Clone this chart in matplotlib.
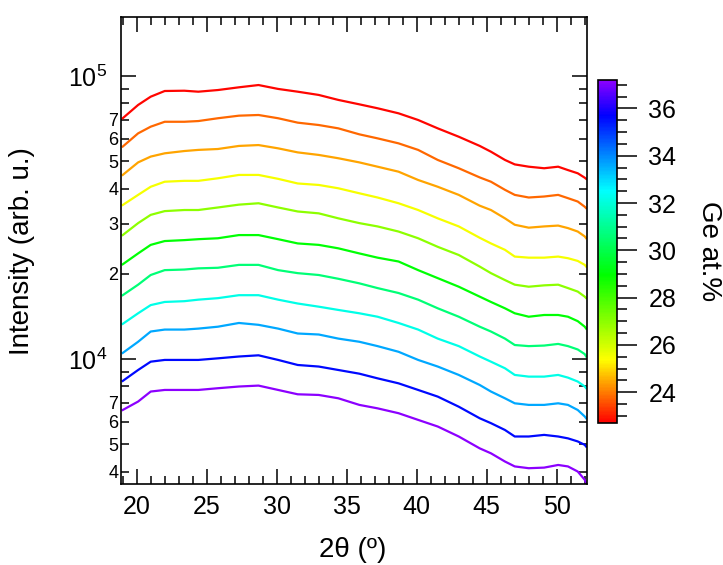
import numpy as np
import matplotlib
matplotlib.use("Agg")
import matplotlib.pyplot as plt
from matplotlib.colors import LinearSegmentedColormap, Normalize
from matplotlib.cm import ScalarMappable
from matplotlib.ticker import MultipleLocator, FixedLocator, FuncFormatter

plt.rcParams['font.family'] = ['Liberation Sans', 'DejaVu Sans']
plt.rcParams['mathtext.fontset'] = 'custom'
plt.rcParams['mathtext.rm'] = 'Liberation Sans'

# diffraction angle (deg)
two_theta = [19.0, 20.1, 21.0, 22.0, 23.4, 24.4, 25.8, 27.3, 28.7, 30.1,
             31.5, 33.0, 34.4, 35.9, 37.2, 38.7, 40.1, 41.5, 43.0, 44.5,
             45.3, 46.3, 47.0, 48.0, 49.1, 50.1, 50.8, 51.5, 52.0, 52.1]

# Ge content of each film (at.%), same order as the scans below
ge_content = [22.8, 23.8, 24.4, 25.5, 27.0, 29.0, 30.6, 32.2, 33.6, 35.6, 37.2]

# intensities (arb. u.)
scan_1 = [70900, 79000, 84500, 88500, 88700, 88000, 89200, 91200, 92900, 90000,
          88000, 85700, 82300, 79400, 76900, 73800, 69900, 65300, 61000, 56600,
          54000, 50500, 48700, 47800, 47200, 47800, 46500, 45300, 43700, 43300]
scan_2 = [56300, 62700, 66200, 68900, 68900, 69300, 70900, 72400, 72800, 70900,
          68400, 67100, 65300, 62200, 60200, 57800, 54800, 50500, 47200, 43800,
          42300, 39600, 38000, 37200, 37500, 38000, 37000, 36000, 34500, 34100]
scan_3 = [44700, 49500, 51900, 53300, 54300, 54800, 55200, 56600, 57000, 55500,
          53700, 52600, 51200, 49500, 47800, 45900, 42900, 40600, 38000, 34800,
          33600, 31400, 29800, 29100, 29400, 29600, 29000, 28200, 27100, 26700]
scan_4 = [35000, 38000, 40600, 42300, 42600, 42600, 43500, 44700, 44700, 43300,
          41700, 41200, 40100, 38500, 37200, 35500, 33600, 31400, 29400, 26800,
          25600, 24300, 23000, 22800, 22800, 23000, 22700, 22200, 21500, 21200]
scan_5 = [27400, 30200, 32300, 33300, 33600, 33600, 34300, 35100, 35500, 34300,
          33200, 32700, 31400, 30200, 29400, 28200, 26700, 24900, 23300, 21200,
          20100, 19000, 18300, 18000, 18200, 18300, 17800, 17300, 16600, 16400]
scan_6 = [21600, 23600, 25300, 26100, 26300, 26500, 26700, 27400, 27400, 26500,
          25600, 25300, 24600, 23600, 22800, 22100, 20600, 19300, 18000, 16600,
          15900, 15100, 14500, 14100, 14300, 14300, 14100, 13600, 13000, 12800]
scan_7 = [16800, 18300, 19800, 20600, 20700, 20900, 21000, 21500, 21500, 20600,
          20100, 19800, 19200, 18500, 17800, 17100, 16200, 15100, 14100, 13000,
          12500, 11800, 11200, 11100, 11150, 11300, 11100, 10800, 10400, 10200]
scan_8 = [13300, 14500, 15500, 15900, 16000, 16200, 16400, 16800, 16800, 16200,
          15700, 15300, 14900, 14500, 14100, 13400, 12700, 11800, 11100, 10200,
          9780, 9270, 8780, 8660, 8660, 8780, 8590, 8320, 7990, 7880]
scan_9 = [10500, 11500, 12500, 12700, 12700, 12800, 13000, 13400, 13200, 12800,
          12300, 12200, 11800, 11500, 11100, 10600, 9920, 9400, 8780, 8090,
          7670, 7260, 6970, 6880, 6880, 6970, 6880, 6600, 6260, 6170]
scan_10 = [8360, 9140, 9780, 9920, 9920, 9920, 10050, 10200, 10300, 9920,
           9520, 9400, 9140, 8870, 8540, 8200, 7770, 7360, 6780, 6170,
           5930, 5610, 5320, 5320, 5390, 5320, 5240, 5110, 4970, 4900]
scan_11 = [6600, 7070, 7670, 7770, 7770, 7770, 7880, 7990, 8050, 7770,
           7500, 7460, 7260, 6880, 6690, 6430, 6090, 5770, 5320, 4830,
           4640, 4340, 4170, 4110, 4130, 4220, 4170, 4000, 3740, 3640]

scans = [scan_1, scan_2, scan_3, scan_4, scan_5, scan_6,
         scan_7, scan_8, scan_9, scan_10, scan_11]

# red -> yellow -> green -> cyan -> blue -> violet
cmap = LinearSegmentedColormap.from_list('ge_rainbow', [
    (0.0, (1, 0, 0)),
    (0.183, (1, 1, 0)),
    (0.431, (0, 1, 0)),
    (0.678, (0, 1, 1)),
    (0.898, (0, 0, 1)),
    (1.0, (0.55, 0, 1)),
])
norm = Normalize(vmin=22.7, vmax=37.2)

fig = plt.figure(figsize=(7.23, 5.65), dpi=100)
ax = fig.add_axes([0.1674, 0.1434, 0.6441, 0.8265])

for ge, scan in zip(ge_content, scans):
    ax.plot(two_theta, scan, color=cmap(norm(ge)), lw=1.6)

ax.set_yscale('log')
ax.set_xlim(18.88, 52.14)
ax.set_ylim(3615, 161600)

ax.xaxis.set_major_locator(MultipleLocator(5))
ax.xaxis.set_minor_locator(MultipleLocator(1))

minor_vals = [m * 10.0**e for e in (3, 4, 5) for m in range(2, 10)]
ax.yaxis.set_minor_locator(FixedLocator(minor_vals))


def minor_label(v, pos):
    d = int(round(v / 10**np.floor(np.log10(v))))
    return str(d) if 2 <= d <= 7 else ''


ax.yaxis.set_minor_formatter(FuncFormatter(minor_label))

for sp in ax.spines.values():
    sp.set_linewidth(1.2)

ax.tick_params(which='both', direction='in', top=True, right=True, width=1.1)
ax.tick_params(which='major', length=11, labelsize=18)
ax.tick_params(which='minor', length=6)
ax.tick_params(axis='x', which='major', pad=8)
ax.tick_params(axis='y', which='major', pad=10)
ax.tick_params(axis='y', which='minor', labelsize=13, pad=2)

# colour scale
cax = fig.add_axes([0.8271, 0.2513, 0.0263, 0.6071])
cb = fig.colorbar(ScalarMappable(norm=norm, cmap=cmap), cax=cax)
cb.set_ticks(np.arange(24, 37, 2))
cb.set_ticks(np.arange(23, 37.3, 0.5), minor=True)
cb.ax.tick_params(which='major', length=14.5, width=1.1, labelsize=18, pad=8)
cb.ax.tick_params(which='minor', length=7, width=1.1)
cb.outline.set_linewidth(1.2)

fig.text(0.031, 0.555, 'Intensity (arb. u.)', rotation=90,
         ha='center', va='center', fontsize=20)
fig.text(0.488, 0.014, '2θ (º)', ha='center', va='baseline', fontsize=20)
fig.text(0.981, 0.556, 'Ge at.%', rotation=270,
         ha='center', va='center', fontsize=20)

fig.savefig('out.png', dpi=100)
